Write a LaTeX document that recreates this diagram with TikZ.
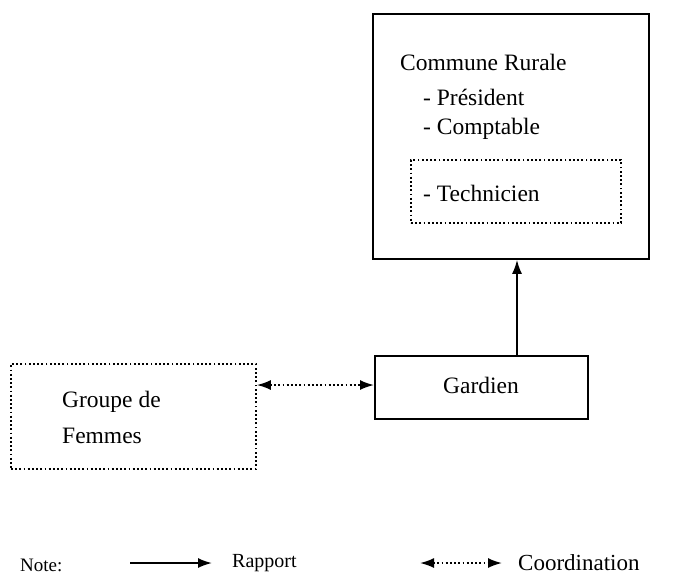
\documentclass[tikz,border=0pt]{standalone}
\usepackage{fontspec}
\setmainfont{Liberation Serif}
\usetikzlibrary{arrows.meta}
\begin{document}
\begin{tikzpicture}[x=1pt,y=-1pt,
  solidbox/.style={draw,line width=1.8pt},
  dotbox/.style={draw,line width=1.8pt,dash pattern=on 1.8pt off 2.4pt},
  big/.style={font=\fontsize{23.5}{26}\selectfont},
  lbl/.style={big,inner sep=0pt,anchor=west},
  rapport/.style={line width=1.8pt,-{Latex[length=14pt,width=10pt]}},
  coord/.style={line width=1.8pt,dash pattern=on 1.8pt off 2.4pt,{Latex[length=14pt,width=10pt]}-{Latex[length=14pt,width=10pt]}}]
\useasboundingbox (0,0) rectangle (692,582);
% Commune Rurale
\node[solidbox,minimum width=276pt,minimum height=245pt,anchor=north west] (commune) at (372,13) {};
\node[lbl] (t1) at (400,62) {Commune Rurale};
\node[lbl] (t2) at (423,97) {- Président};
\node[lbl] (t3) at (423,129) {- Comptable};
\node[dotbox,minimum width=210pt,minimum height=63pt,anchor=north west] (tech) at (410,159) {};
\node[lbl] (t4) at (423,193) {- Technicien};
% Gardien
\node[solidbox,minimum width=213pt,minimum height=63pt,anchor=north west] (gardien) at (374,355) {};
\node[big,inner sep=0pt] (tg) at (481,385) {Gardien};
% Groupe de Femmes
\node[dotbox,minimum width=245pt,minimum height=105pt,anchor=north west] (groupe) at (10,363) {};
\node[lbl] (tf1) at (62,402) {Groupe de};
\node[lbl] (tf2) at (62,436) {Femmes};
% connectors
\draw[rapport] (gardien.north -| 517,0) -- (commune.south -| 517,0);
\draw[coord] (groupe.east |- 0,385) -- (gardien.west |- 0,385);
% legend
\node[inner sep=0pt,anchor=west,font=\fontsize{19}{21}\selectfont] (note) at (20,565) {Note:};
\coordinate (r1) at (130,563);
\coordinate (r2) at (212,563);
\draw[rapport] (r1) -- (r2);
\node[inner sep=0pt,anchor=west,font=\fontsize{20}{22}\selectfont] (rap) at (232,563) {Rapport};
\coordinate (c1) at (420,563);
\coordinate (c2) at (502,563);
\draw[coord] (c1) -- (c2);
\node[inner sep=0pt,anchor=west,font=\fontsize{23}{25}\selectfont] (coo) at (518,563) {Coordination};
\end{tikzpicture}
\end{document}
